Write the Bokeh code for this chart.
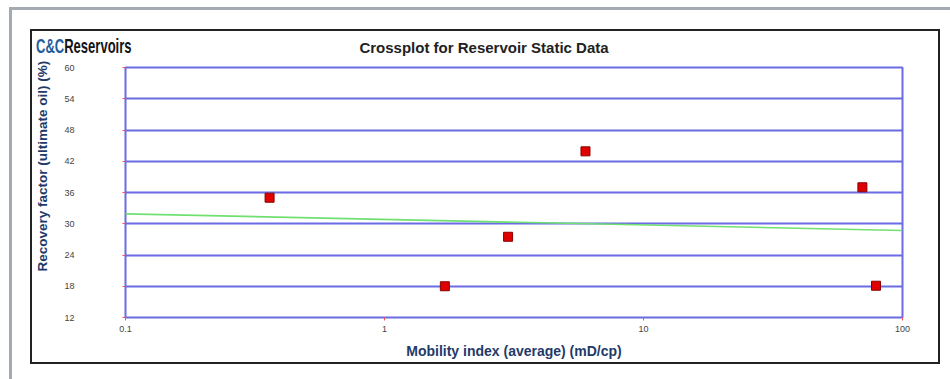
from bokeh.plotting import figure
from bokeh.models import FixedTicker, ColumnDataSource, Div, Title
from bokeh.layouts import column
from bokeh.embed import file_html
from bokeh.resources import INLINE

# ---- data ----
mobility = [0.36, 1.71, 3.0, 5.97, 70.0, 79.0]
recovery = [35.0, 18.0, 27.5, 43.9, 37.0, 18.1]
trend_x = [0.1, 100]
trend_y = [31.9, 28.7]
x_ticks = [0.1, 1, 10, 100]
x_tick_labels = ["0.1", "1", "10", "100"]
y_ticks = [12, 18, 24, 30, 36, 42, 48, 54, 60]

title_text = "Crossplot for Reservoir Static Data"
x_label = "Mobility index (average) (mD/cp)"
y_label = "Recovery factor (ultimate oil) (%)"
logo_a = "C&C"
logo_b = "Reservoirs"

BLUE = "#6b6be3"
NAVY = "#1f3a68"
GRAY = "#a3aab2"
HEADER_H = 55

# ---- header (logo + title) ----
header_html = f"""
<div style="position:relative;width:950px;height:{HEADER_H}px;margin:0;padding:0;">
  <div style="position:absolute;left:36px;top:34px;white-space:nowrap;transform:scaleX(0.62);
              transform-origin:left top;font-family:'Liberation Sans Narrow','Liberation Sans',sans-serif;
              font-weight:bold;font-size:21px;line-height:normal;">
    <span style="color:#1f5c9e;">{logo_a}</span><span style="color:#151515;">{logo_b}</span>
  </div>
  <div style="position:absolute;left:484px;top:39px;white-space:nowrap;transform:translateX(-50%);
              font-family:'Liberation Sans',sans-serif;font-weight:bold;font-size:15px;
              line-height:normal;color:#222222;">{title_text}</div>
</div>
"""
header = Div(text=header_html, width=950, height=HEADER_H, margin=0)

# ---- chart ----
p = figure(width=950, height=379 - HEADER_H, x_axis_type="log", x_range=(0.1, 100),
           y_range=(12, 60), output_backend="svg", toolbar_location=None, margin=0)
p.min_border_left = 125
p.min_border_right = 48
p.min_border_top = 67 - HEADER_H
p.min_border_bottom = 379 - 317
p.background_fill_color = "white"
p.border_fill_alpha = 0
p.outline_line_color = BLUE
p.outline_line_width = 2

p.xgrid.grid_line_color = None
p.ygrid.grid_line_color = BLUE
p.ygrid.grid_line_width = 2
p.ygrid.ticker = FixedTicker(ticks=y_ticks)

p.xaxis.ticker = FixedTicker(ticks=x_ticks)
p.xaxis.major_label_overrides = {t: l for t, l in zip(x_ticks, x_tick_labels)}
p.yaxis.ticker = FixedTicker(ticks=y_ticks)

for ax in (p.xaxis[0], p.yaxis[0]):
    ax.axis_line_color = None
    ax.major_tick_line_color = "#ff5050"
    ax.major_tick_out = 3
    ax.major_tick_in = 0
    ax.minor_tick_line_color = None
    ax.major_label_text_font = "Liberation Sans"
    ax.major_label_text_font_size = "9px"
    ax.major_label_text_color = "#444444"
    ax.axis_label_text_font = "Liberation Sans"
    ax.axis_label_text_font_size = "14px"
    ax.axis_label_text_font_style = "bold"
    ax.axis_label_text_color = NAVY

p.xaxis.axis_label = x_label
p.xaxis.major_label_standoff = 5
p.xaxis.axis_label_standoff = 8
p.yaxis.major_label_standoff = 48

ytitle = Title(text=y_label, align="left", offset=46, text_font="Liberation Sans",
               text_font_size="13.5px", text_font_style="bold", text_color=NAVY)
if "standoff" in Title.properties():
    ytitle.standoff = 23
p.add_layout(ytitle, "left")

src = ColumnDataSource(dict(x=mobility, y=recovery))
p.line(trend_x, trend_y, line_color="#70e070", line_width=1.6)
p.scatter("x", "y", source=src, marker="square", size=9,
          fill_color="#e00000", line_color="#8a0000", line_width=1)

bg = ", ".join([
    f"linear-gradient({GRAY},{GRAY}) 9px 7px / 941px 3px no-repeat",
    f"linear-gradient({GRAY},{GRAY}) 9px 7px / 3px 372px no-repeat",
    "linear-gradient(#222,#222) 30px 29px / 910px 2px no-repeat",
    "linear-gradient(#222,#222) 30px 362px / 910px 2px no-repeat",
    "linear-gradient(#222,#222) 30px 29px / 2px 335px no-repeat",
    "linear-gradient(#222,#222) 938px 29px / 2px 335px no-repeat",
    "white",
])
root = column(header, p, width=950, height=379, spacing=0, margin=0,
              styles={"background": bg})

open("out.html", "w").write(file_html(root, INLINE))
